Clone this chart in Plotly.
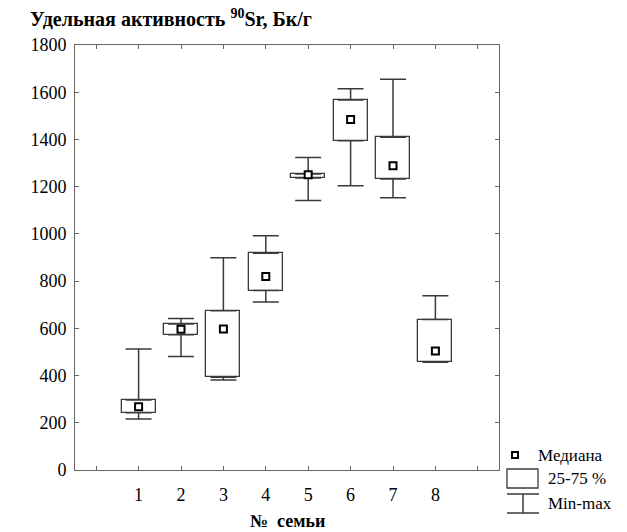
import plotly.graph_objects as go

families = [1, 2, 3, 4, 5, 6, 7, 8]
v_min = [216, 481, 381, 712, 1141, 1204, 1153, 456]
q1 = [243, 573, 393, 760, 1237, 1395, 1232, 456]
median = [268, 596, 597, 820, 1251, 1484, 1289, 504]
q3 = [296, 618, 675, 918, 1254, 1567, 1409, 637]
v_max = [512, 642, 899, 992, 1324, 1615, 1655, 738]

x_ticktext = ["1", "2", "3", "4", "5", "6", "7", "8"]
y_tickvals = [0, 200, 400, 600, 800, 1000, 1200, 1400, 1600, 1800]

W, H = 627, 532
L, R, T, B = 75, 128, 45, 62
PW, PH = W - L - R, H - T - B

def px(x):
    return (x - L) / PW

def py(y):
    return (H - B - y) / PH

FONT = "Liberation Serif"
LC = "#3a3a3a"

fig = go.Figure()

# boxes (25-75 %)
fig.add_trace(go.Bar(
    x=families, y=[b - a for a, b in zip(q1, q3)], base=q1, width=0.8,
    marker=dict(color="white", line=dict(color=LC, width=1.3)),
    showlegend=False, hoverinfo="skip"))

# upper whiskers
fig.add_trace(go.Scatter(
    x=families, y=q3, mode="markers", marker=dict(size=1, color="rgba(0,0,0,0)"),
    error_y=dict(type="data", symmetric=False,
                 array=[b - a for a, b in zip(q3, v_max)],
                 arrayminus=[0] * len(families),
                 color=LC, thickness=1.5, width=13),
    showlegend=False, hoverinfo="skip"))

# lower whiskers
fig.add_trace(go.Scatter(
    x=families, y=q1, mode="markers", marker=dict(size=1, color="rgba(0,0,0,0)"),
    error_y=dict(type="data", symmetric=False,
                 array=[0] * len(families),
                 arrayminus=[a - b for a, b in zip(q1, v_min)],
                 color=LC, thickness=1.5, width=13),
    showlegend=False, hoverinfo="skip"))

# medians
fig.add_trace(go.Scatter(
    x=families, y=median, mode="markers",
    marker=dict(symbol="square", size=7, color="white", line=dict(color="black", width=2)),
    showlegend=False, hoverinfo="skip"))

shapes = []
annotations = []
LFS = 17

# legend: median
shapes.append(dict(type="rect", xref="paper", yref="paper",
                   x0=px(512), x1=px(518), y0=py(458), y1=py(452),
                   line=dict(color="black", width=2), fillcolor="white"))
annotations.append(dict(text="Медиана", xref="paper", yref="paper", x=px(536), y=py(455),
                        xanchor="left", yanchor="middle", showarrow=False,
                        font=dict(family=FONT, size=LFS, color="black")))
# legend: box
shapes.append(dict(type="rect", xref="paper", yref="paper",
                   x0=px(507), x1=px(538), y0=py(488), y1=py(469),
                   line=dict(color=LC, width=1.3), fillcolor="white"))
annotations.append(dict(text="25-75 %", xref="paper", yref="paper", x=px(546), y=py(478),
                        xanchor="left", yanchor="middle", showarrow=False,
                        font=dict(family=FONT, size=LFS, color="black")))
# legend: min-max
for yy in (494, 513):
    shapes.append(dict(type="line", xref="paper", yref="paper",
                       x0=px(507), x1=px(539), y0=py(yy), y1=py(yy),
                       line=dict(color=LC, width=1.5)))
shapes.append(dict(type="line", xref="paper", yref="paper",
                   x0=px(523), x1=px(523), y0=py(494), y1=py(513),
                   line=dict(color=LC, width=1.5)))
annotations.append(dict(text="Min-max", xref="paper", yref="paper", x=px(546), y=py(503),
                        xanchor="left", yanchor="middle", showarrow=False,
                        font=dict(family=FONT, size=LFS, color="black")))

# title
annotations.append(dict(text="<b>Удельная активность <sup>90</sup>Sr, Бк/г</b>",
                        xref="paper", yref="paper", x=px(28), y=py(18),
                        xanchor="left", yanchor="middle", showarrow=False,
                        font=dict(family=FONT, size=20, color="black")))
# x title
annotations.append(dict(text="<b>№  семьи</b>", xref="paper", yref="paper",
                        x=px(287), y=py(521), xanchor="center", yanchor="middle",
                        showarrow=False, font=dict(family=FONT, size=18, color="black")))

fig.update_layout(
    width=W, height=H,
    margin=dict(l=L, r=R, t=T, b=B, pad=0),
    paper_bgcolor="white", plot_bgcolor="white",
    font=dict(family=FONT, size=18, color="black"),
    shapes=shapes, annotations=annotations,
    showlegend=False, bargap=0,
    xaxis=dict(range=[-0.5, 9.5], tickvals=families, ticktext=x_ticktext,
               ticks="inside", ticklen=4, tickcolor="#666", showline=True,
               linecolor="#666", linewidth=1, mirror="ticks", showgrid=False,
               zeroline=False, ticklabelstandoff=8,
               minor=dict(tick0=0, dtick=1, ticks="inside", ticklen=4,
                          tickcolor="#666", showgrid=False)),
    yaxis=dict(range=[0, 1800], tickvals=y_tickvals,
               ticks="inside", ticklen=4, tickcolor="#666", showline=True,
               linecolor="#666", linewidth=1, mirror="ticks", showgrid=False,
               zeroline=False, ticklabelstandoff=4),
)

fig.write_html("out.html", config={"displayModeBar": False},
               post_script="document.body.style.margin='0';document.body.style.padding='0';")
